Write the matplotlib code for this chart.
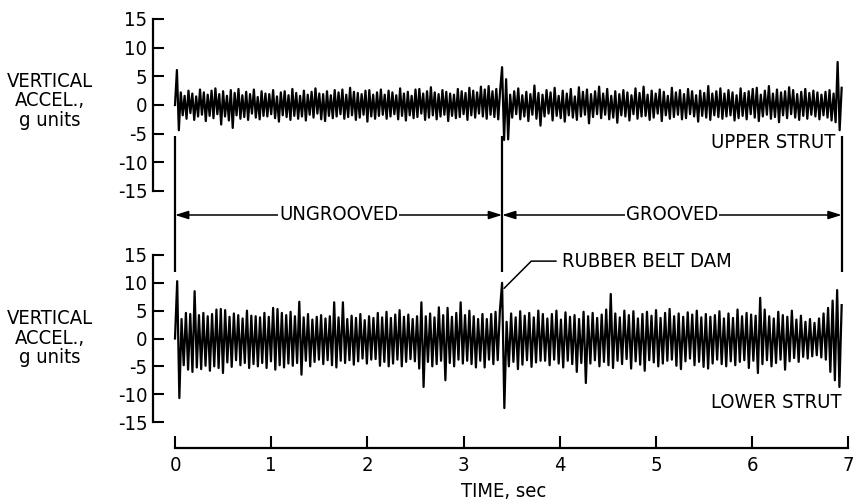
import numpy as np
from matplotlib import pyplot as plt

plt.rcParams['font.family'] = ['Liberation Sans Narrow', 'DejaVu Sans']
plt.rcParams['font.stretch'] = 'condensed'
plt.rcParams['axes.unicode_minus'] = False

# event times, sec
t_start = 0.0
t_dam = 3.40
t_end = 6.93

# alternating peak values, g units
upper_ungrooved = [0.0, 6.1, -4.4, 2.2, -1.8, 1.6, -2.4, 2.5, -1.4, 2.0, -2.6, 1.5, -2.0, 2.7, -1.7, 2.2,
                   -2.8, 1.8, -1.9, 2.5, -2.3, 2.9, -1.6, 1.9, -3.4, 2.4, -2.0, 1.6, -2.7, 2.6, -4.0, 2.1,
                   -1.8, 2.8, -2.4, 1.7, -2.1, 2.3, -2.6, 1.9, -1.5, 2.7, -2.2, 1.4, -2.5, 2.4, -1.9, 2.0,
                   -2.0, 1.9, -1.6, 2.6, -2.3, 1.5, -2.9, 2.2, -1.8, 2.4, -2.1, 1.7, -2.6, 2.8, -1.9, 2.1,
                   -2.4, 1.6, -2.0, 2.5, -2.7, 1.8, -1.7, 2.3, -2.2, 2.9, -1.5, 2.0, -2.5, 1.9, -2.8, 2.4,
                   -1.9, 1.7, -2.3, 2.6, -2.0, 2.2, -1.6, 2.7, -2.4, 1.8, -2.1, 3.0, -1.8, 2.3, -2.6, 2.1,
                   -2.2, 1.9, -1.7, 2.5, -2.9, 2.6, -2.0, 1.8, -2.4, 2.2, -1.9, 2.7,
                   -1.7, 1.8, -2.4, 2.5, -2.0, 2.2, -1.6, 1.7, -2.5, 2.9, -1.9, 2.0, -2.7, 2.3, -1.8, 1.6,
                   -2.3, 2.7, -2.1, 2.8, -1.5, 2.0, -2.6, 2.4, -2.2, 3.1, -1.8, 2.2, -2.5, 1.9, -2.0, 2.6,
                   -1.7, 2.3, -2.8, 2.0, -1.9, 1.8, -2.3, 2.8, -2.1, 2.4, -1.6, 2.1, -2.6, 3.0, -1.8, 2.5,
                   -2.2, 2.2, -1.5, 3.2, -2.0, 2.7, -2.4, 3.3, -1.7, 2.4, -2.1, 2.8, -2.5, 2.6]
upper_grooved = [6.6, -6.1, 4.5, -6.0, 1.8, -2.2, 2.4, -1.6, 2.9, -2.5, 1.7, -2.0, 2.3, -2.8, 1.9, -1.7,
                 3.4, -2.4, 2.1, -3.6, 1.8, -2.0, 2.6, -1.5, 2.2, -2.7, 3.0, -1.9, 1.6, -2.3, 2.5, -2.9,
                 2.0, -1.8, 2.8, -2.2, 1.5, -2.6, 3.1, -2.0, 2.3, -1.7, 2.7, -3.2, 1.9, -2.1, 2.4, -1.6,
                 3.2, -2.3, 2.0, -1.7, 2.8, -2.5, 1.6, -2.2, 2.4, -3.1, 1.9, -1.8, 2.6, -2.0, 2.2, -2.7,
                 1.7, -1.6, 2.9, -2.4, 2.1, -2.0, 3.2, -1.9, 1.8, -2.6, 2.5, -2.2, 2.0, -1.5, 2.7, -2.8,
                 2.3, -1.8, 1.6, -2.4, 3.0, -2.1, 2.2, -1.7, 2.6, -2.5, 1.9, -2.3, 2.8, -1.6, 2.4, -2.0,
                 1.7, -2.9, 2.5, -1.9, 2.1, -2.2, 3.3, -2.6, 2.0, -1.8, 2.4, -2.1, 2.9,
                 -2.4, 2.0, -2.0, 2.6, -1.8, 2.2, -2.7, 1.7, -2.3, 2.9, -1.9, 2.1, -2.5, 2.4, -1.6,
                 2.8, -2.2, 3.0, -2.8, 1.8, -2.0, 2.5, -1.7, 3.3, -2.4, 2.0, -2.1, 2.7, -3.0, 2.2, -1.8,
                 2.4, -2.3, 3.1, -1.6, 2.6, -2.2, 1.9, -2.6, 2.3, -1.9, 2.8, -2.4, 2.1, -1.7, 2.5, -2.0,
                 2.2, -2.5, 1.8, -1.8, 2.3, -2.2, 2.6, -2.7, 2.0, -3.0, 7.5, -4.4, 3.0]
lower_ungrooved = [0.0, 10.3, -10.7, 3.5, -4.8, 4.6, -5.6, 4.4, -6.0, 8.5, -5.2, 4.2, -5.5, 4.6, -4.9, 4.0,
                   -5.8, 4.4, -5.0, 5.2, -5.3, 5.3, -6.2, 5.1,
                   -4.3, 3.9, -5.1, 4.5, -3.9, 4.2, -4.8, 3.6, -4.4, 5.0, -5.3, 4.1,
                   -4.6, 4.0, -5.0, 3.8, -4.4, 4.6, -5.3, 3.9,
                   -4.1, 5.5, -5.6, 5.3, -4.8, 4.6, -5.2, 4.2, -4.5, 4.8, -4.9, 4.0, -4.4, 6.6, -6.5, 3.8,
                   -4.0, 4.4, -5.0, 3.4, -4.2, 3.9, -3.8, 4.2, -4.6, 3.6, -3.9, 4.0, -4.8, 6.5, -5.2, 3.8,
                   -4.0, 6.5, -4.4, 3.5, -3.9, 4.1, -4.7, 3.7, -4.1, 4.4, -3.6, 3.3, -4.5, 4.0, -3.8, 3.7,
                   -3.7, 4.6, -4.9, 3.8, -4.2, 4.8, -5.0, 3.7, -4.5, 4.3, -3.8, 5.1,
                   -5.0, 3.9, -4.2, 4.3, -3.7, 3.5, -4.1, 4.0, -5.4, 6.5, -8.7, 4.0, -4.2, 4.5, -5.0, 3.8,
                   -4.6, 5.6, -4.0, 4.2, -7.5, 5.5, -4.4, 3.9, -5.0, 4.6, -3.8, 6.5, -4.5, 4.2, -4.0, 5.0,
                   -4.6, 4.0, -5.2, 3.5, -4.0, 4.4,
                   -5.2, 3.5, -3.8, 4.4, -4.6, 4.8, -3.9, 5.0]
lower_grooved = [10.0, -12.5, 3.0, -5.0, 4.5, -4.2, 3.8, -5.5, 4.9,
                 -4.7, 4.1, -3.9, 4.6, -5.1, 3.8, -4.3, 5.0, -4.0, 4.4,
                 -4.0, 3.6, -4.8, 4.4, -3.8, 5.0, -4.5,
                 3.4, -5.2, 4.7, -4.0, 3.9, -4.6, 4.2, -6.0, 3.5, -4.4, 4.8, -8.0, 4.0, -4.5, 4.6, -3.9,
                 3.7, -5.0, 4.3, -4.2, 5.2, -4.8, 8.0, -5.3, 4.5, -4.0, 3.8, -4.6, 5.0, -3.7, 4.2, -5.4,
                 4.9, -4.1, 3.6, -4.7, 4.4, -5.8, 4.8, -3.9, 4.1, -4.3, 5.1, -5.0, 3.7, -4.5, 4.6, -4.0,
                 5.3, -3.8, 4.0, -4.9, 4.5, -5.5, 3.9, -4.1, 4.7, -3.6, 4.3, -4.8, 5.0, -4.2, 3.8, -5.1,
                 4.4,
                 -5.4, 3.9, -4.5, 4.2, -3.8, 4.9, -4.6, 3.6, -5.0, 4.5, -4.1, 3.7, -4.8, 5.2, -4.2, 4.0,
                 -3.9, 4.6, -5.3, 4.3,
                 -4.0, 4.1, -6.2, 7.3, -4.6, 5.2, -3.9, 4.0, -5.0, 3.6, -4.4, 4.8, -3.8, 4.2, -5.6,
                 3.9, -4.1, 5.0, -3.5, 3.4, -4.2, 4.1, -3.3, 3.0, -3.6, 3.5, -3.2, 2.8, -3.0, 3.6, -3.4,
                 4.5, -3.8, 5.5, -6.0, 6.8, -7.5, 8.7, -8.7, 6.0]

y_ticks = [-15, -10, -5, 0, 5, 10, 15]
x_ticks = [0, 1, 2, 3, 4, 5, 6, 7]

W, H = 855, 504
fig = plt.figure(figsize=(W / 100, H / 100), dpi=100)


def rect(x0, ytop, x1, ybot):
    return [x0 / W, 1 - ybot / H, (x1 - x0) / W, (ybot - ytop) / H]


# time scale: 0 s at x=175 px, ~96 px per second
px_per_s = 96.2
xlim = ((153 - 175) / px_per_s, (855 - 175) / px_per_s)


def trace(vals_a, vals_b):
    ta = np.linspace(t_start, t_dam, len(vals_a), endpoint=False)
    tb = np.linspace(t_dam, t_end, len(vals_b))
    return np.concatenate([ta, tb]), np.array(vals_a + vals_b)


def strut_axes(r, vals_a, vals_b, name, name_xy):
    ax = fig.add_axes(r)
    ax.patch.set_alpha(0)
    t, g = trace(vals_a, vals_b)
    ax.plot(t, g, color='black', lw=1.6)
    ax.set_xlim(*xlim)
    ax.set_ylim(-15, 15)
    for s in ['top', 'right', 'bottom']:
        ax.spines[s].set_visible(False)
    ax.spines['left'].set_linewidth(1.6)
    ax.set_xticks([])
    ax.set_yticks(y_ticks)
    ax.tick_params(axis='y', direction='in', length=8, width=1.5, pad=4, labelsize=14.5)
    fig.text(name_xy[0] / W, 1 - name_xy[1] / H, name, ha='center', va='center', fontsize=14.5)
    return ax


ax_up = strut_axes(rect(153, 19, 855, 191), upper_ungrooved, upper_grooved, 'UPPER STRUT', (773, 142))
ax_lo = strut_axes(rect(153, 255, 855, 422), lower_ungrooved, lower_grooved, 'LOWER STRUT', (776, 403))

for yc in [101, 338]:
    fig.text(50 / W, 1 - yc / H, 'VERTICAL\nACCEL.,\ng units', ha='center', va='center',
             fontsize=14.5, linespacing=1.05)

# event markers and range arrows
ax_mid = fig.add_axes(rect(153, 136, 855, 272))
ax_mid.set_xlim(*xlim)
ax_mid.set_ylim(0, 1)
ax_mid.axis('off')
ax_mid.vlines([t_start, t_dam, t_end], 0, 1, color='black', lw=1.6)
ya = (272 - 215) / (272 - 136)
for a, b, label in [(t_start, t_dam, 'UNGROOVED'), (t_dam, t_end, 'GROOVED')]:
    ax_mid.annotate('', xy=(a, ya), xytext=(b, ya),
                    arrowprops=dict(arrowstyle='<|-|>,head_length=0.8,head_width=0.25',
                                    color='black', lw=1.1, shrinkA=0, shrinkB=0))
    ax_mid.text((a + b) / 2, ya, label, ha='center', va='center', fontsize=14.5,
                bbox=dict(fc='white', ec='none', pad=0.5), zorder=5)

ax_lo.annotate('RUBBER BELT DAM', xy=(t_dam + 0.02, 9.0), xytext=(4.02, 13.9),
               ha='left', va='center', fontsize=14.5, annotation_clip=False,
               arrowprops=dict(arrowstyle='-', color='black', lw=1.1, shrinkA=2, shrinkB=0,
                               connectionstyle='angle,angleA=180,angleB=45,rad=0'))

# time axis
ax_t = fig.add_axes(rect(153, 430, 855, 447.5))
ax_t.patch.set_alpha(0)
ax_t.set_xlim(*xlim)
for s in ['top', 'right', 'left']:
    ax_t.spines[s].set_visible(False)
ax_t.spines['bottom'].set_bounds(0, 7)
ax_t.spines['bottom'].set_linewidth(1.6)
ax_t.set_yticks([])
ax_t.set_xticks(x_ticks)
ax_t.tick_params(axis='x', direction='in', length=9, width=1.5, pad=6, labelsize=14.5)
ax_t.set_xlabel('TIME, sec', fontsize=14.5, labelpad=5)

fig.savefig('out.png', dpi=100, facecolor='white')
